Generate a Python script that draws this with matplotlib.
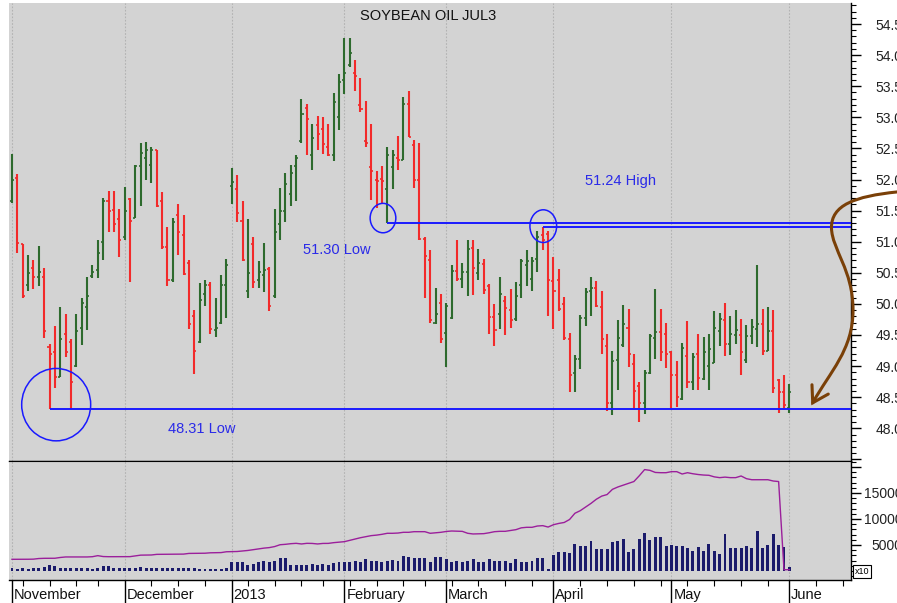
import numpy as np
import matplotlib
matplotlib.use("Agg")
import matplotlib.pyplot as plt
import matplotlib.transforms as mtransforms
from matplotlib.patches import Ellipse, PathPatch
from matplotlib.path import Path
from matplotlib.ticker import FixedLocator, MultipleLocator, FuncFormatter

plt.rcParams['font.family'] = ['Liberation Sans', 'DejaVu Sans']

# ---------------- data (trading-day index 0 = 1 Nov 2012) ----------------
opens = [51.65, 52.03, 50.96, 50.30, 50.58, 50.43, 50.44, 49.31, 49.22, 48.83,
         49.52, 49.38, 49.00, 49.62, 49.95, 50.45, 50.55, 50.99, 51.66, 51.51,
         51.36, 51.07, 51.68, 51.38, 52.22, 52.34, 52.24, 52.47, 51.66, 50.91,
         50.38, 51.43, 51.11, 50.65, 49.80, 49.38, 50.16, 50.30, 49.58, 49.70,
         50.30, 51.89, 51.85, 51.33, 50.20, 50.97, 50.38, 50.47, 50.56, 50.12,
         51.29, 51.50, 51.76, 52.21, 52.62, 53.15, 52.40, 52.88, 52.82, 52.52,
         52.39, 53.00, 53.60, 53.84, 53.72, 53.20, 52.62, 52.20, 52.00, 52.01,
         51.84, 52.20, 52.35, 52.32, 53.21, 52.55, 52.00, 51.04, 50.70, 49.70,
         50.01, 49.53, 49.78, 50.53, 50.40, 50.51, 50.90, 50.50, 50.64, 50.28,
         49.79, 49.84, 50.05, 49.90, 49.75, 50.30, 50.62, 50.40, 50.72, 51.10,
         51.12, 50.37, 50.38, 50.00, 49.44, 48.89, 49.12, 49.77, 50.20, 50.25,
         49.95, 49.32, 48.40, 49.10, 49.34, 49.62, 49.03, 48.68, 48.41, 48.89,
         49.45, 49.55, 49.51, 49.23, 48.86, 48.47, 49.17, 48.75, 49.20, 48.79,
         49.00, 49.05, 49.56, 49.74, 49.36, 49.50, 49.50, 49.10, 49.49, 49.59,
         49.67, 49.25, 49.56, 48.77, 48.58, 48.32]
highs = [52.41, 52.09, 50.97, 50.78, 50.70, 50.93, 50.57, 49.35, 49.65, 49.95,
         49.83, 49.43, 49.83, 50.09, 50.44, 50.62, 51.03, 51.71, 51.82, 51.82,
         51.52, 51.88, 51.71, 52.24, 52.58, 52.61, 52.52, 52.48, 51.80, 51.24,
         51.38, 51.60, 51.43, 50.70, 49.90, 50.33, 50.38, 50.35, 50.09, 50.47,
         50.72, 52.19, 52.08, 51.65, 51.37, 51.08, 50.69, 50.98, 50.59, 51.52,
         51.87, 52.10, 52.23, 52.39, 53.29, 53.21, 52.90, 53.02, 53.01, 52.90,
         53.39, 53.69, 54.27, 54.27, 53.92, 53.64, 53.26, 52.89, 52.14, 52.21,
         52.52, 52.47, 52.70, 53.33, 53.43, 52.64, 52.59, 51.07, 50.87, 50.26,
         50.16, 50.01, 50.62, 51.03, 50.66, 51.03, 51.02, 50.88, 50.72, 50.32,
         50.00, 50.43, 50.13, 50.24, 50.36, 50.72, 50.87, 50.75, 51.18, 51.24,
         51.17, 50.75, 50.56, 50.11, 49.53, 49.18, 49.82, 50.25, 50.43, 50.37,
         50.21, 49.51, 49.24, 49.74, 49.99, 49.91, 49.19, 48.75, 48.93, 49.52,
         50.24, 49.91, 49.70, 49.25, 49.08, 49.37, 49.73, 49.21, 49.51, 49.46,
         49.51, 49.89, 49.85, 50.02, 49.80, 49.90, 49.76, 49.66, 49.75, 50.63,
         49.91, 49.95, 49.90, 48.79, 48.86, 48.72]
lows = [51.63, 50.82, 50.09, 50.20, 50.24, 50.28, 49.45, 48.31, 48.64, 48.82,
        49.15, 48.31, 48.98, 49.34, 49.58, 50.41, 50.42, 50.71, 51.15, 51.15,
        50.75, 51.03, 50.35, 51.38, 51.57, 52.00, 51.95, 51.55, 50.88, 50.28,
        50.35, 50.79, 50.46, 49.60, 48.88, 49.37, 49.96, 49.52, 49.46, 49.67,
        49.78, 51.60, 51.31, 50.69, 50.09, 50.25, 50.26, 50.19, 49.88, 50.09,
        51.03, 51.32, 51.57, 51.65, 52.59, 52.39, 52.15, 52.47, 52.41, 52.37,
        52.30, 52.80, 53.37, 53.81, 53.42, 53.08, 52.53, 51.67, 51.54, 51.63,
        51.30, 51.84, 52.15, 52.32, 52.69, 51.87, 51.03, 50.09, 49.69, 49.68,
        49.37, 48.99, 49.75, 50.37, 50.25, 50.12, 50.15, 50.39, 50.16, 49.52,
        49.32, 49.60, 49.50, 49.62, 49.73, 50.09, 50.28, 50.20, 50.52, 50.87,
        49.80, 49.60, 49.89, 49.42, 48.58, 48.58, 48.96, 49.65, 49.81, 49.95,
        49.20, 48.28, 48.22, 48.61, 49.30, 48.99, 48.32, 48.10, 48.23, 48.87,
        49.11, 49.08, 48.97, 48.32, 48.35, 48.46, 48.65, 48.61, 48.62, 48.77,
        48.61, 49.05, 49.32, 49.16, 49.18, 49.36, 48.86, 49.05, 49.35, 49.30,
        49.18, 49.24, 48.57, 48.25, 48.33, 48.25]
closes = [52.00, 50.98, 50.12, 50.49, 50.43, 50.51, 49.56, 49.19, 48.82, 49.43,
          49.22, 48.75, 49.57, 50.01, 50.12, 50.52, 50.82, 51.66, 51.49, 51.28,
          51.03, 51.49, 51.34, 52.21, 52.43, 52.47, 52.48, 51.58, 50.91, 50.38,
          51.32, 51.15, 50.48, 49.68, 49.25, 50.06, 50.31, 49.60, 49.62, 50.30,
          50.63, 51.96, 51.46, 50.70, 50.50, 50.35, 50.52, 50.55, 49.97, 51.16,
          51.50, 51.92, 52.10, 52.35, 53.05, 52.98, 52.66, 52.73, 52.57, 52.39,
          53.24, 53.57, 53.72, 54.03, 53.67, 53.14, 52.58, 52.13, 51.98, 51.98,
          52.39, 52.39, 52.32, 53.21, 52.69, 52.00, 51.05, 50.77, 49.74, 49.84,
          49.43, 49.96, 50.53, 50.40, 50.51, 50.89, 50.57, 50.65, 50.23, 49.79,
          49.58, 50.16, 49.93, 49.74, 50.12, 50.69, 50.69, 50.69, 51.08, 51.03,
          50.38, 50.21, 49.92, 49.45, 48.85, 49.12, 49.77, 50.19, 50.26, 49.97,
          49.44, 48.40, 49.08, 49.45, 49.67, 49.19, 48.60, 48.41, 48.89, 49.49,
          49.55, 49.23, 49.20, 48.86, 48.50, 49.29, 48.75, 49.14, 48.81, 49.23,
          49.27, 49.61, 49.75, 49.36, 49.52, 49.58, 49.22, 49.49, 49.63, 49.67,
          49.25, 49.56, 48.64, 48.58, 48.38, 48.58]
volume = [500, 450, 500, 450, 550, 500, 700, 1250, 900, 600,
          550, 650, 500, 550, 500, 450, 600, 950, 1000, 650,
          600, 550, 650, 600, 700, 550, 600, 650, 600, 550,
          600, 500, 600, 550, 500, 450, 400, 350, 400, 450,
          500, 1790, 1790, 1660, 1150, 1280, 1660, 1920, 1660, 1920,
          2440, 2560, 1150, 1150, 1150, 1150, 1280, 1150, 1280, 1150,
          1470, 1660, 1790, 1660, 1920, 1790, 2310, 1920, 1920, 1790,
          1920, 2120, 1920, 2880, 2760, 2440, 2560, 2560, 1790, 2760,
          2700, 2310, 1790, 1920, 1790, 1920, 2310, 1790, 1790, 2310,
          1920, 1920, 1920, 1600, 2310, 1790, 1790, 1920, 2440, 2560,
          380, 3080, 3720, 3590, 3530, 5190, 4810, 4810, 5830, 4230,
          4160, 4230, 5640, 5770, 6090, 3720, 4160, 6090, 7250, 5960,
          6600, 6600, 4870, 5000, 4810, 4810, 4360, 3850, 4550, 3850,
          5260, 3910, 3270, 7050, 4360, 4360, 4360, 4870, 4360, 7690,
          4360, 5000, 7050, 5000, 4680, 830]
open_interest = [2250, 2250, 2250, 2260, 2280, 2400, 2440, 2450, 2450, 2600,
                 2700, 2700, 2700, 2700, 2700, 2750, 2950, 2780, 2750, 2750,
                 2750, 2750, 2760, 2900, 3050, 3060, 3080, 3200, 3210, 3210,
                 3210, 3220, 3250, 3380, 3400, 3420, 3420, 3500, 3520, 3540,
                 3700, 3720, 3750, 3850, 3950, 4100, 4250, 4400, 4500, 4700,
                 5050, 5130, 5250, 5320, 5200, 5320, 5300, 5200, 5300, 5310,
                 5450, 5550, 5640, 5900, 6150, 6400, 6600, 6800, 6900, 7050,
                 7250, 7250, 7300, 7440, 7440, 7560, 7560, 7560, 7250, 7350,
                 7440, 7600, 7690, 7650, 7620, 7250, 7120, 7150, 7180, 7350,
                 7560, 7630, 7630, 7800, 7950, 8300, 8400, 8400, 8650, 8720,
                 8450, 8900, 9150, 9330, 9900, 11100, 11600, 12300, 13000, 13800,
                 14400, 14700, 15700, 16150, 16500, 16870, 17200, 18300, 19500, 19350,
                 18950, 18900, 18900, 19100, 19100, 18650, 18900, 18700, 18550, 18450,
                 18400, 18100, 17950, 18050, 17950, 17950, 18270, 17750, 17550, 17550,
                 17550, 17550, 17300, 17200, 250, 250]

month_labels = ["November", "December", "2013", "February", "March", "April", "May", "June"]
month_starts = [0, 21, 41, 62, 81, 101, 123, 145]
week_starts = [2, 7, 12, 16, 26, 31, 36, 44, 49, 54, 58, 63, 68, 73, 77,
               82, 87, 92, 97, 106, 111, 116, 121, 126, 131, 136, 141, 150, 155]
price_ticks = [47.5, 48.0, 48.5, 49.0, 49.5, 50.0, 50.5, 51.0, 51.5, 52.0,
               52.5, 53.0, 53.5, 54.0, 54.5]
volume_ticks = [5000, 10000, 15000, 20000]

# annotation levels
low_4831 = (7, 48.31)
low_5130 = (70, 51.30)
high_5124 = (99, 51.24)

# ---------------- figure ----------------
W, H = 897, 603
fig = plt.figure(figsize=(W / 100, H / 100), dpi=100)
bg = '#d3d3d3'
ax = fig.add_axes([9 / W, 142 / H, 842 / W, 458 / H])
axv = fig.add_axes([9 / W, 23 / H, 842 / W, 119 / H])
for a in (ax, axv):
    a.set_facecolor(bg)
    a.set_xlim(-0.56, 156.5)
    a.spines['left'].set_visible(False)
    a.spines['right'].set_color('black')
    a.spines['bottom'].set_color('black')
    a.spines['right'].set_linewidth(1.0)
    a.spines['bottom'].set_linewidth(1.0)
ax.spines['top'].set_visible(False)
axv.spines['top'].set_color('black')

ax.set_ylim(47.474, 54.838)
axv.set_ylim(-1730, 21150)

idx = np.arange(len(opens))
o = np.array(opens); h = np.array(highs); l = np.array(lows); c = np.array(closes)
cols = np.where(c >= o, '#2d6a2d', '#f22a2a')

# gridlines at month starts
for a in (ax, axv):
    for m in month_starts:
        a.axvline(m, color='#b2b2b2', lw=0.8, ls=(0, (1.5, 1.5)), zorder=0.5)

# OHLC bars
ax.vlines(idx, l, h, colors=cols, lw=1.5, zorder=3)
ax.hlines(o, idx - 0.38, idx, colors=cols, lw=1.2, zorder=3)
ax.hlines(c, idx, idx + 0.38, colors=cols, lw=1.2, zorder=3)

blue = '#1a1aff'
tblue = '#2a2ae8'
xr = ax.get_xlim()[1]
ax.hlines(low_4831[1], low_4831[0], xr, color=blue, lw=1.4, zorder=4)
ax.hlines(low_5130[1], low_5130[0], xr, color=blue, lw=1.4, zorder=4)
ax.hlines(high_5124[1], high_5124[0], xr, color=blue, lw=1.4, zorder=4)

ax.add_patch(Ellipse((low_4831[0] + 1.24, low_4831[1] + 0.07), 12.87, 1.164,
                     fill=False, ec=blue, lw=1.1, zorder=5))
ax.add_patch(Ellipse((low_5130[0] - 0.8, low_5130[1] + 0.08), 4.79, 0.473,
                     fill=False, ec=blue, lw=1.1, zorder=5))
ax.add_patch(Ellipse((high_5124[0] + 0.1, high_5124[1] + 0.01), 4.98, 0.526,
                     fill=False, ec=blue, lw=1.1, zorder=5))

ax.text(106.9, 51.912, "51.24 High", color=tblue, fontsize=10.5, ha='left', va='baseline')
ax.text(54.35, 50.797, "51.30 Low", color=tblue, fontsize=10.5, ha='left', va='baseline')
ax.text(29.16, 47.92, "48.31 Low", color=tblue, fontsize=10.5, ha='left', va='baseline')

ax.text(0.4976, 0.963, "SOYBEAN OIL JUL3", transform=ax.transAxes, fontsize=10.5,
        ha='center', va='baseline', color='#111111')

# brown curved arrow
brown = '#7a4008'
verts = [(165.08, 51.80), (157.25, 51.73), (152.77, 51.59), (152.86, 51.22),
         (152.96, 50.87), (156.88, 50.55), (156.88, 49.90),
         (156.88, 49.26), (152.58, 48.91), (149.36, 48.41)]
codes = [Path.MOVETO] + [Path.CURVE4] * 9
ax.add_patch(PathPatch(Path(verts, codes), fill=False, ec=brown, lw=2.2,
                       clip_on=False, zorder=6, capstyle='round'))
ax.plot([149.22, 149.36, 152.26], [48.70, 48.41, 48.55], color=brown, lw=2.2,
        clip_on=False, zorder=6, solid_capstyle='round', solid_joinstyle='miter')

# price axis
ax.yaxis.tick_right()
ax.yaxis.set_major_locator(FixedLocator(price_ticks))
ax.yaxis.set_major_formatter(FuncFormatter(lambda v, p: '' if v < 47.9 else f'{v:.1f}'))
ax.yaxis.set_minor_locator(MultipleLocator(0.1))
ax.tick_params(axis='y', which='major', direction='out', length=7.2, width=1.0,
               pad=30, labelsize=10, right=True, left=False, labelright=True,
               labelleft=False, colors='black')
ax.tick_params(axis='y', which='minor', direction='out', length=3.6, width=0.8,
               right=True, left=False)
ax.tick_params(axis='x', which='both', bottom=False, labelbottom=False)
for lab in ax.get_yticklabels():
    lab.set_horizontalalignment('right')
    lab.set_color('#222222')

# volume panel
axv.bar(idx, volume, width=0.55, color='#1b1b6b', zorder=3)
axv.plot(idx, open_interest, color='#9b1f9b', lw=1.0, zorder=4)
axv.yaxis.tick_right()
axv.yaxis.set_major_locator(FixedLocator(volume_ticks))
axv.yaxis.set_major_formatter(FuncFormatter(lambda v, p: '' if v > 16000 else f'{int(v)}'))
axv.yaxis.set_minor_locator(MultipleLocator(1000))
axv.tick_params(axis='y', which='major', direction='out', length=7.2, width=1.0,
                pad=30, labelsize=10, right=True, left=False, labelright=True,
                labelleft=False)
axv.tick_params(axis='y', which='minor', direction='out', length=3.6, width=0.8,
                right=True, left=False)
for lab in axv.get_yticklabels():
    lab.set_horizontalalignment('right')
    lab.set_color('#222222')

axv.set_xticks(month_starts)
axv.set_xticks(week_starts, minor=True)
axv.set_xticklabels([''] * len(month_starts))
axv.tick_params(axis='x', which='major', direction='out', length=17, width=1.0)
axv.tick_params(axis='x', which='minor', direction='out', length=4, width=0.8)
trans = mtransforms.blended_transform_factory(axv.transData, axv.transAxes)
for m, lab in zip(month_starts, month_labels):
    axv.text(m + 0.35, -0.16, lab, transform=trans, ha='left', va='baseline',
             fontsize=10.5, color='#111111')

axv.text(1.0048, 0.0714, "x10", transform=axv.transAxes, ha='left', va='center',
         fontsize=6.5, bbox=dict(boxstyle='square,pad=0.2', fc='white', ec='black', lw=0.8),
         zorder=10, clip_on=False)

fig.savefig("out.png", dpi=100)
